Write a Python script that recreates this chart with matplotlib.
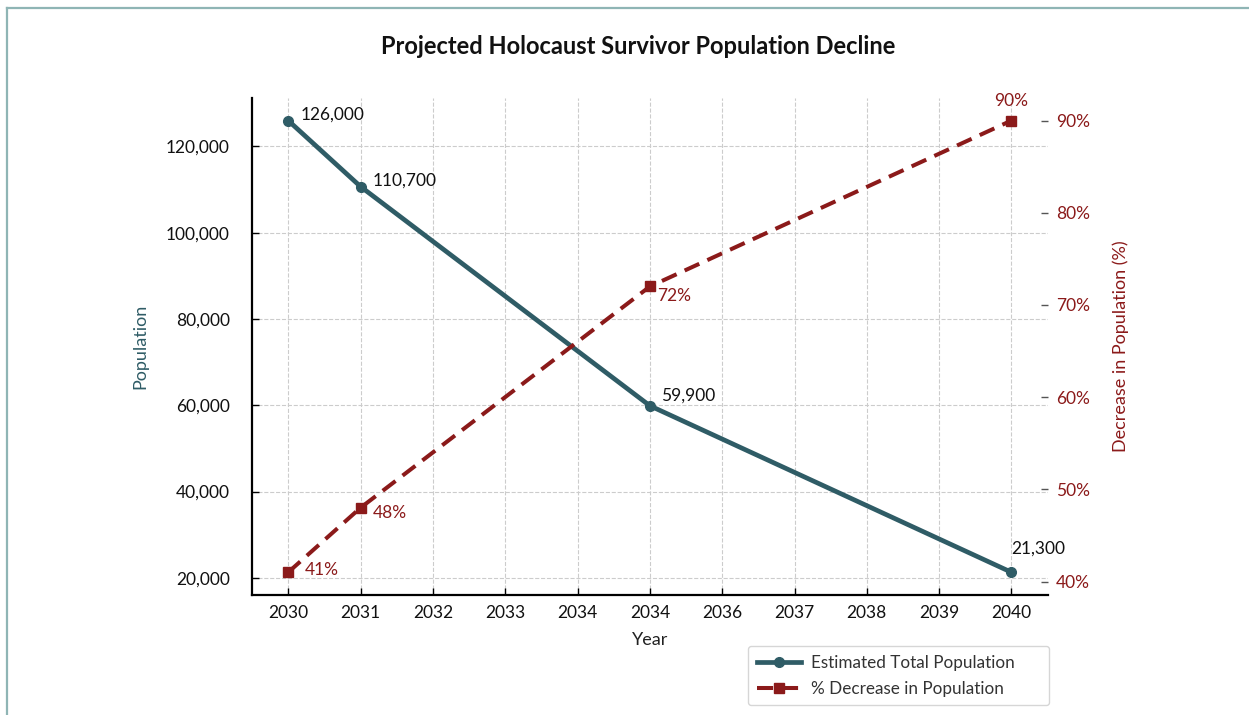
import matplotlib.pyplot as plt
from matplotlib.lines import Line2D
from matplotlib.ticker import FuncFormatter

# valeurs
years = [2030, 2031, 2035, 2040]
population = [126000, 110700, 59900, 21300]
pct_decrease = [41, 48, 72, 90]
tick_years = list(range(2030, 2041))
tick_labels = ["2030", "2031", "2032", "2033", "2034", "2034",
               "2036", "2037", "2038", "2039", "2040"]
pop_ticks = [20000, 40000, 60000, 80000, 100000, 120000]
pct_ticks = [40, 50, 60, 70, 80, 90]

TEAL = "#2f5c66"
RED = "#8b1a1a"

plt.rcParams["font.family"] = ["Lato", "DejaVu Sans"]

fig = plt.figure(figsize=(12.49, 7.15), dpi=100)
ax = fig.add_axes([0.2018, 0.168, 0.637, 0.695])
ax2 = ax.twinx()

ax.plot(years, population, color=TEAL, lw=3.4, marker="o", ms=7,
        label="Estimated Total Population", zorder=3)
ax2.plot(years, pct_decrease, color=RED, lw=2.9, ls=(0, (4, 2.2)),
         marker="s", ms=7.5, label="% Decrease in Population", zorder=3)

# étiquettes des points
pop_offsets = [(9, 4, "left"), (9, 4, "left"), (8, 7, "left"), (0, 17, "left")]
for x, y, (dx, dy, ha) in zip(years, population, pop_offsets):
    ax.annotate(f"{y:,}", (x, y), xytext=(dx, dy), textcoords="offset points",
                ha=ha, va="center", fontsize=12.5, color="#111111")

pct_offsets = [(12, 2, "left"), (9, -4, "left"), (5, -7, "left"), (0, 14, "center")]
for x, y, (dx, dy, ha) in zip(years, pct_decrease, pct_offsets):
    ax2.annotate(f"{y}%", (x, y), xytext=(dx, dy), textcoords="offset points",
                 ha=ha, va="center", fontsize=12.5, color=RED)

ax.set_xlim(2029.5, 2040.5)
ax.set_xticks(tick_years)
ax.set_xticklabels(tick_labels)
ax.set_yticks(pop_ticks)
ax.yaxis.set_major_formatter(FuncFormatter(lambda v, p: f"{int(v):,}"))
ax2.set_yticks(pct_ticks)
ax2.yaxis.set_major_formatter(FuncFormatter(lambda v, p: f"{int(v)}%"))

ax.tick_params(axis="both", direction="in", length=5, width=1, labelsize=12.5,
               labelcolor="#111111")
ax.tick_params(axis="y", pad=16)
ax.tick_params(axis="x", pad=7)
ax2.tick_params(axis="y", direction="in", length=5, width=1, color="#555555",
                labelsize=12.5, labelcolor=RED, pad=6)

ax.grid(True, ls="--", color="#cccccc", lw=0.8)
ax.set_axisbelow(True)

for s in ["top", "right"]:
    ax.spines[s].set_visible(False)
for s in ["top", "right", "left", "bottom"]:
    ax2.spines[s].set_visible(False)
ax.spines["left"].set_linewidth(1.6)
ax.spines["bottom"].set_linewidth(1.6)

ax.set_xlabel("Year", fontsize=13, color="#222222", labelpad=8)
ax.set_ylabel("Population", fontsize=13, color=TEAL, labelpad=13)
ax2.set_ylabel("Decrease in Population (%)", fontsize=13, color=RED, labelpad=16)

fig.text(638 / 1249, 1 - 47 / 715, "Projected Holocaust Survivor Population Decline",
         ha="center", va="center", fontsize=17, fontweight="bold", color="#111111")

handles = ax.get_lines()[:1] + ax2.get_lines()[:1]
leg = fig.legend(handles, [h.get_label() for h in handles], loc="upper left",
                 bbox_to_anchor=(748 / 1249, 1 - 703 / 715, 301 / 1249, 57 / 715),
                 mode="expand", fontsize=12.3, handlelength=2.6, handletextpad=0.6,
                 frameon=True, borderpad=0.5, labelspacing=0.6, borderaxespad=0)
leg.get_frame().set_edgecolor("#cccccc")
for t in leg.get_texts():
    t.set_color("#333333")

# cadre autour de la figure
fig.add_artist(Line2D([7 / 1249, 7 / 1249], [0, 1 - 8 / 715], color="#8fb5b5", lw=1.6))
fig.add_artist(Line2D([7 / 1249, 1], [1 - 8 / 715, 1 - 8 / 715], color="#8fb5b5", lw=1.6))

fig.savefig("out.png", dpi=100)
